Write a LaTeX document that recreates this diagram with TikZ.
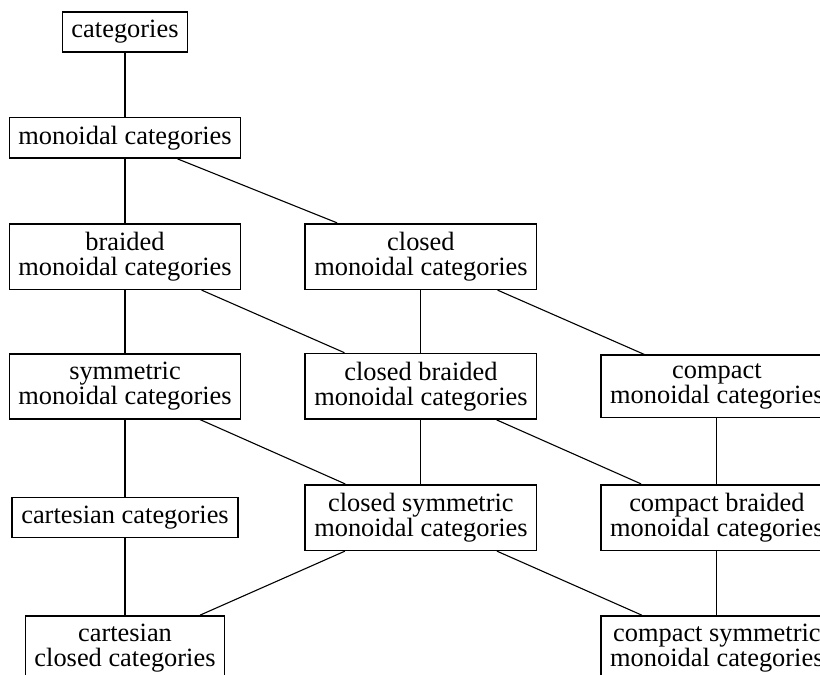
\documentclass[tikz,border=0pt]{standalone}
\usepackage{fontspec}
\setmainfont{Liberation Serif}
\usepackage{tikz}
\usetikzlibrary{positioning}

\begin{document}
\begin{tikzpicture}[
		x=1pt,
		y=-1pt,
		-,
		node distance=64pt and 63pt,
		line width=1.1pt,
		box/.style={draw, rectangle, line width=1.6pt, align=center,
			inner xsep=9pt, inner ysep=8.3pt,
			font=\fontsize{26.4}{25}\selectfont}
	  ]
	  \clip (0,0) rectangle (820,675);

	  \node[box] (1) at (125,32) 			{categories};
	  \node[box] (2) [below=of 1] 		{monoidal categories};
	  \node[box] (3) [below=of 2] 		{braided\\monoidal categories};
	  \node[box] (4) [right=of 3] 		{closed\\monoidal categories};
	  \node[box] (5) [below=63pt of 3] 	{symmetric\\monoidal categories};
	  \node[box] (6) [right=of 5] 		{closed braided\\monoidal categories};
	  \node[box] (7) [right=of 6] 		{compact\\monoidal categories};
	  \node[box] (8) [below=of 6] 		{closed symmetric\\monoidal categories};
	  \node[box] (9) at (5 |- 8) 		{cartesian categories};
	  \node[box] (10) [right=of 8] 		{compact braided\\monoidal categories};
	  \node[box] (11) [below=of 10] 		{compact symmetric\\monoidal categories};
	  \node[box] (12) at (9 |- 11) 		{cartesian\\closed categories};

	  \path 	 (1) 	edge (2)
	       	 (2) 	edge (3)
	            		edge (4)
	       	 (3) 	edge (5)
	            		edge (6)
	       	 (4) 	edge (6)
	            		edge (7)
	       	 (5) 	edge (9)
	            		edge (8)
	       	 (6) 	edge (8)
	            		edge (10)
	       	 (7) 	edge (10)
	       	 (9) 	edge (12)
	       	 (8) 	edge (12)
	            		edge (11)
	       	 (10) 	edge (11);

	\end{tikzpicture}
\end{document}
